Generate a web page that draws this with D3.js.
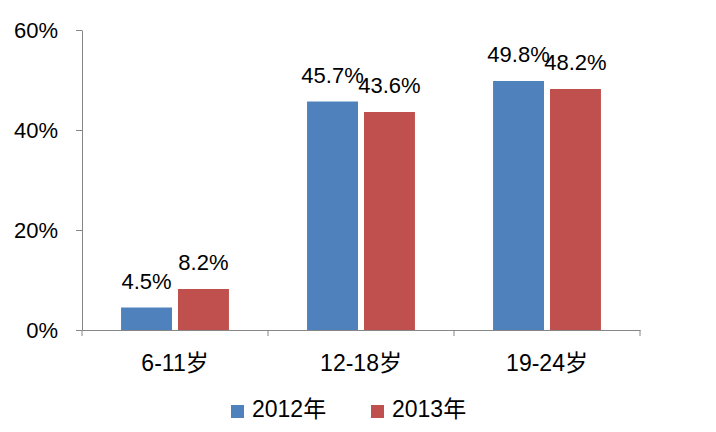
<!DOCTYPE html>
<html>
<head>
<meta charset="utf-8">
<script src="https://cdn.jsdelivr.net/npm/d3@7"></script>
<style>
  body { margin: 0; background: #fff; }
  text { font-family: "Liberation Sans", Arial, "Noto Sans CJK SC", sans-serif; }
</style>
</head>
<body>
<div id="container"></div>
<script>
/* DATA */
const categories = ["6-11岁", "12-18岁", "19-24岁"]
const seriesNames = ["2012年", "2013年"]
const values2012 = [0.045, 0.457, 0.498]
const values2013 = [0.082, 0.436, 0.482]
const yTicks = [0, 0.2, 0.4, 0.6]
const colors = ["#4F81BD", "#C0504D"]

/* CONSTANTS */
const width = 716
const height = 432
const margin = { top: 30, bottom: 102, left: 82, right: 76 }

const data = categories.map((c, i) => ({
  category: c,
  values: [
    { series: seriesNames[0], value: values2012[i] },
    { series: seriesNames[1], value: values2013[i] }
  ]
}))

const svg = d3.select("#container")
  .append("svg")
  .attr("width", width)
  .attr("height", height)

/* SCALES */
const x0 = d3.scaleBand()
  .domain(categories)
  .range([margin.left, width - margin.right])
  .paddingInner(0.42)
  .paddingOuter(0.21)

const x1 = d3.scaleBand()
  .domain(seriesNames)
  .range([0, x0.bandwidth()])
  .paddingInner(0.105)

const y = d3.scaleLinear()
  .domain([0, 0.6])
  .range([height - margin.bottom, margin.top])

const color = d3.scaleOrdinal().domain(seriesNames).range(colors)

/* AXES */
const yAxis = svg.append("g")
  .attr("transform", `translate(${margin.left},0)`)
  .call(d3.axisLeft(y).tickValues(yTicks).tickFormat(d3.format(".0%")).tickSize(6).tickSizeOuter(0).tickPadding(18))
yAxis.select(".domain").attr("stroke", "#868686")
yAxis.selectAll(".tick line").attr("stroke", "#868686")
yAxis.selectAll(".tick text").style("font-size", "22px").attr("fill", "#000")
  .style("font-family", "'Liberation Sans', Arial, sans-serif")

const xAxis = svg.append("g")
  .attr("transform", `translate(0,${height - margin.bottom})`)
  .call(d3.axisBottom(x0).tickSize(0).tickSizeOuter(0).tickPadding(24))
xAxis.select(".domain").attr("stroke", "#868686")
xAxis.selectAll(".tick text").style("font-size", "23px").attr("fill", "#000")
  .attr("dy", "0.72em")

// category boundary ticks
const step = x0.step()
const bounds = d3.range(categories.length + 1).map(i => x0.range()[0] + i * step)
xAxis.selectAll(".bound")
  .data(bounds)
  .join("line")
  .attr("class", "bound")
  .attr("x1", d => d).attr("x2", d => d)
  .attr("y1", 0).attr("y2", 6)
  .attr("stroke", "#868686")

/* BARS */
const groups = svg.selectAll(".grp")
  .data(data)
  .join("g")
  .attr("class", "grp")
  .attr("transform", d => `translate(${x0(d.category)},0)`)

groups.selectAll("rect")
  .data(d => d.values)
  .join("rect")
  .attr("x", d => x1(d.series))
  .attr("y", d => y(d.value))
  .attr("width", x1.bandwidth())
  .attr("height", d => y(0) - y(d.value))
  .attr("fill", d => color(d.series))

groups.selectAll("text.lbl")
  .data(d => d.values)
  .join("text")
  .attr("class", "lbl")
  .attr("x", d => x1(d.series) + x1.bandwidth() / 2)
  .attr("y", d => y(d.value) - 19)
  .attr("text-anchor", "middle")
  .style("font-size", "22px")
  .text(d => (d.value * 100).toFixed(1) + "%")

/* LEGEND */
const legendX = [231, 371]
const legend = svg.selectAll(".leg")
  .data(seriesNames)
  .join("g")
  .attr("class", "leg")
  .attr("transform", (d, i) => `translate(${legendX[i]},405)`)
legend.append("rect")
  .attr("width", 13).attr("height", 13)
  .attr("fill", d => color(d))
legend.append("text")
  .attr("x", 21).attr("y", 12)
  .style("font-size", "23px")
  .text(d => d)
</script>
</body>
</html>
